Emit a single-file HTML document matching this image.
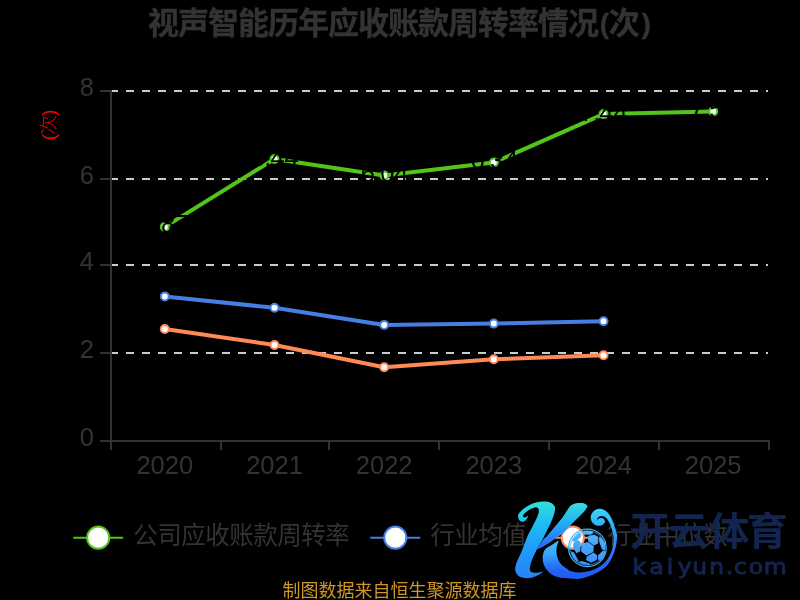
<!DOCTYPE html>
<html lang="zh-CN">
<head>
<meta charset="utf-8">
<title>视声智能历年应收账款周转率情况(次)</title>
<style>
html,body{margin:0;padding:0;background:#000;width:800px;height:600px;overflow:hidden}
svg{display:block;position:absolute;left:0;top:0}
text{font-family:"Liberation Sans","Noto Sans CJK SC",sans-serif}
.dv{font-family:"DejaVu Sans","Liberation Sans",sans-serif}
.ax{fill:#333;font-size:25.5px}
.lg{fill:#333;font-size:24.5px;letter-spacing:-0.5px}
.dl{fill:#000;font-size:25.5px}
</style>
</head>
<body>
<svg width="800" height="600" viewBox="0 0 800 600">
<defs>
<linearGradient id="gs" gradientUnits="userSpaceOnUse" x1="0" y1="501" x2="0" y2="578">
<stop offset="0" stop-color="#34e2d6"/>
<stop offset="0.3" stop-color="#1cbcf4"/>
<stop offset="0.6" stop-color="#1f9ef8"/>
<stop offset="1" stop-color="#2682fa"/>
</linearGradient>
<linearGradient id="ga" gradientUnits="userSpaceOnUse" x1="0" y1="503" x2="0" y2="549">
<stop offset="0" stop-color="#34dfe0"/>
<stop offset="0.5" stop-color="#25a4f6"/>
<stop offset="1" stop-color="#2c62fa"/>
</linearGradient>
<linearGradient id="gc" gradientUnits="userSpaceOnUse" x1="0" y1="509" x2="0" y2="578">
<stop offset="0" stop-color="#34d6fa"/>
<stop offset="0.16" stop-color="#34bcfa"/>
<stop offset="0.38" stop-color="#3198fa"/>
<stop offset="0.6" stop-color="#2c7ef9"/>
<stop offset="0.8" stop-color="#2668f7"/>
<stop offset="1" stop-color="#1f5af5"/>
</linearGradient>
<linearGradient id="gl" gradientUnits="userSpaceOnUse" x1="0" y1="540" x2="0" y2="578">
<stop offset="0" stop-color="#3cbefa"/>
<stop offset="0.35" stop-color="#38a8fa"/>
<stop offset="0.65" stop-color="#2a76f8"/>
<stop offset="0.85" stop-color="#2261f6"/>
<stop offset="1" stop-color="#1f5af5"/>
</linearGradient>
<clipPath id="cl"><rect x="500" y="480" width="74" height="120"/></clipPath>
<clipPath id="cr"><rect x="574" y="480" width="60" height="120"/></clipPath>
<linearGradient id="gb" gradientUnits="userSpaceOnUse" x1="0" y1="529" x2="0" y2="567">
<stop offset="0" stop-color="#52b8fa"/>
<stop offset="1" stop-color="#3a8efa"/>
</linearGradient>
</defs>
<rect width="800" height="600" fill="#000"/>
<!-- title -->
<text x="148" y="33.5" font-size="31" font-weight="bold" fill="#333" stroke="#333" stroke-width="0.35" letter-spacing="-1">视声智能历年应收账款周转率情况<tspan dx="1.8" dy="-1" font-size="28">(</tspan><tspan dx="0.5" dy="1">次</tspan><tspan dx="2.8" dy="-1" font-size="28">)</tspan></text>
<!-- y axis name -->
<text transform="translate(54.8,125.4) rotate(-90) scale(1.1,1)" text-anchor="middle" font-size="18" font-weight="300" fill="#f00" letter-spacing="-0.8">(次)</text>
<!-- grid lines -->
<g stroke="#ccc" stroke-width="2" stroke-dasharray="8 8" fill="none">
<path d="M110 91H768"/>
<path d="M110 179H768"/>
<path d="M110 265H768"/>
<path d="M110 353H768"/>
</g>
<!-- axes -->
<g stroke="#333" stroke-width="2" fill="none">
<path d="M111 90V450"/>
<path d="M100 441H770"/>
<path d="M100 91H111M100 179H111M100 265H111M100 353H111"/>
<path d="M221 441V450M329 441V450M439 441V450M549 441V450M659 441V450M769 440V450"/>
</g>
<!-- y labels -->
<g class="ax" text-anchor="end">
<text x="94" y="96.3">8</text>
<text x="94" y="184.3">6</text>
<text x="94" y="270.3">4</text>
<text x="94" y="358.3">2</text>
<text x="94" y="446.3">0</text>
</g>
<!-- x labels -->
<g class="ax" text-anchor="middle">
<text x="164.8" y="474.4">2020</text>
<text x="274.5" y="474.4">2021</text>
<text x="384.2" y="474.4">2022</text>
<text x="493.8" y="474.4">2023</text>
<text x="603.5" y="474.4">2024</text>
<text x="713.2" y="474.4">2025</text>
</g>
<!-- series -->
<g fill="none" stroke-width="4" stroke-linejoin="round">
<polyline stroke="#52c41a" points="164.8,226.9 274.5,159 384.2,175.5 493.8,162.5 603.5,114.1 713.2,111.4"/>
<polyline stroke="#467ee4" points="164.8,296.4 274.5,307.8 384.2,324.9 493.8,323.6 603.5,321.3"/>
<polyline stroke="#ff8a55" points="164.8,329 274.5,345 384.2,367.3 493.8,359.3 603.5,355.3"/>
</g>
<g fill="#fff" stroke-width="2">
<g stroke="#52c41a">
<circle cx="164.8" cy="226.9" r="4"/><circle cx="274.5" cy="159" r="4"/><circle cx="384.2" cy="175.5" r="4"/><circle cx="493.8" cy="162.5" r="4"/><circle cx="603.5" cy="114.1" r="4"/><circle cx="713.2" cy="111.4" r="4"/>
</g>
<g stroke="#467ee4">
<circle cx="164.8" cy="296.4" r="4"/><circle cx="274.5" cy="307.8" r="4"/><circle cx="384.2" cy="324.9" r="4"/><circle cx="493.8" cy="323.6" r="4"/><circle cx="603.5" cy="321.3" r="4"/>
</g>
<g stroke="#ff8a55">
<circle cx="164.8" cy="329" r="4"/><circle cx="274.5" cy="345" r="4"/><circle cx="384.2" cy="367.3" r="4"/><circle cx="493.8" cy="359.3" r="4"/><circle cx="603.5" cy="355.3" r="4"/>
</g>
</g>
<!-- data labels (black on black) -->
<g class="dl">
<text x="141.4 154.6 160.9 174.9" y="233.4">4.87</text>
<text x="251.1 264.2 270.6 284.6" y="165.5">6.44</text>
<text x="360.8 373.9 380.2 394.2" y="182.0">6.04</text>
<text x="470.4 483.6 489.9 503.9" y="169.0">6.34</text>
<text x="580.0 593.2 599.5 613.5" y="120.6">7.44</text>
<text x="689.8 703.0 709.2 723.2" y="117.9">7.50</text>
</g>
<!-- legend -->
<g stroke-width="2" fill="#fff">
<path d="M73.2 537.7H123.2" stroke="#52c41a"/><circle cx="98.2" cy="537.7" r="11.1" stroke="#52c41a"/>
<path d="M370.3 537.7H420.3" stroke="#467ee4"/><circle cx="395.3" cy="537.7" r="11.1" stroke="#467ee4"/>
<path d="M547.8 537.7H597.8" stroke="#ff8a55"/><circle cx="572.8" cy="537.7" r="11.1" stroke="#ff8a55"/>
</g>
<g class="lg">
<text x="133.2" y="544.4">公司应收账款周转率</text>
<text x="430.2" y="544.4">行业均值</text>
<text x="607.2" y="544.4">行业中位数</text>
</g>
<!-- footer -->
<text x="399.5" y="596.5" text-anchor="middle" font-size="18" fill="#cf9725">制图数据来自恒生聚源数据库</text>
<!-- watermark logo -->
<g id="wm">
<path fill="url(#gl)" clip-path="url(#cl)" d="M558.8 540.2C556.5 541.7 554.3 543.3 552.0 544.8C550.0 546.1 547.7 546.9 546.0 548.5C544.7 549.7 544.0 551.4 543.4 553.0C542.9 554.4 542.6 556.0 542.6 557.5C542.6 559.5 542.8 561.6 543.4 563.5C544.0 565.4 544.8 567.2 546.0 568.8C547.7 571.1 549.6 573.3 552.0 574.8C554.7 576.4 557.9 577.2 561.0 577.8C563.9 578.4 567.0 578.3 570.0 578.5C572.5 578.7 575.0 579.1 577.5 578.9C580.0 578.7 582.5 578.1 585.0 577.4C587.6 576.7 590.1 575.8 592.5 574.8C595.1 573.7 597.7 572.5 600.0 571.0C602.7 569.2 605.4 567.4 607.5 565.0C609.4 562.8 610.7 560.1 612.0 557.5C613.2 555.1 614.2 552.6 615.0 550.0C615.7 547.6 616.1 545.0 616.5 542.5C616.8 540.0 617.4 537.5 617.1 535.0C616.8 532.6 615.7 530.3 615.0 528.0C614.3 525.8 613.7 523.5 612.8 521.3C612.0 519.2 611.0 517.2 609.8 515.3C608.8 513.7 607.5 512.3 606.0 511.1C604.7 510.1 603.1 509.2 601.5 508.9C600.0 508.6 598.4 508.8 597.0 509.2C595.6 509.6 594.2 510.4 593.2 511.5C592.2 512.5 591.4 513.9 591.0 515.3C590.6 516.7 590.6 518.4 591.0 519.8C591.4 521.2 592.1 522.6 593.2 523.5C594.5 524.6 596.1 525.5 597.8 525.8C599.3 526.0 600.9 525.7 602.2 525.0C603.4 524.4 604.6 523.3 604.9 522.0C605.2 521.0 604.6 519.8 603.8 519.0C603.0 518.2 601.9 517.9 600.8 517.9C599.8 517.9 598.8 518.3 598.1 519.0C597.6 519.5 597.6 520.3 597.4 521.0C597.5 520.0 597.1 518.8 597.6 518.0C598.2 517.0 599.4 516.4 600.5 516.2C601.6 515.9 602.9 516.1 604.0 516.6C605.4 517.2 606.5 518.3 607.5 519.5C608.6 520.8 609.3 522.4 610.0 524.0C610.8 525.9 611.4 528.0 612.0 530.0C612.6 532.0 613.3 534.0 613.5 536.0C613.8 538.2 613.7 540.3 613.5 542.5C613.3 544.5 613.0 546.5 612.4 548.5C611.7 550.8 610.9 553.1 609.8 555.3C608.7 557.4 607.6 559.5 606.0 561.3C604.3 563.3 602.2 565.0 600.0 566.5C597.7 568.1 595.1 569.3 592.5 570.3C590.1 571.2 587.5 571.7 585.0 572.1C582.5 572.5 580.0 572.7 577.5 572.5C575.0 572.3 572.4 571.8 570.0 571.0C568.8 570.6 568.0 569.5 567.0 568.8C565.3 567.5 563.3 566.6 561.8 565.0C560.2 563.3 558.9 561.2 558.0 559.0C557.1 556.9 556.7 554.6 556.5 552.3C556.3 550.3 556.5 548.3 556.9 546.3C557.3 544.2 558.2 542.2 558.8 540.2Z"/>
<path fill="url(#gc)" clip-path="url(#cr)" d="M558.8 540.2C556.5 541.7 554.3 543.3 552.0 544.8C550.0 546.1 547.7 546.9 546.0 548.5C544.7 549.7 544.0 551.4 543.4 553.0C542.9 554.4 542.6 556.0 542.6 557.5C542.6 559.5 542.8 561.6 543.4 563.5C544.0 565.4 544.8 567.2 546.0 568.8C547.7 571.1 549.6 573.3 552.0 574.8C554.7 576.4 557.9 577.2 561.0 577.8C563.9 578.4 567.0 578.3 570.0 578.5C572.5 578.7 575.0 579.1 577.5 578.9C580.0 578.7 582.5 578.1 585.0 577.4C587.6 576.7 590.1 575.8 592.5 574.8C595.1 573.7 597.7 572.5 600.0 571.0C602.7 569.2 605.4 567.4 607.5 565.0C609.4 562.8 610.7 560.1 612.0 557.5C613.2 555.1 614.2 552.6 615.0 550.0C615.7 547.6 616.1 545.0 616.5 542.5C616.8 540.0 617.4 537.5 617.1 535.0C616.8 532.6 615.7 530.3 615.0 528.0C614.3 525.8 613.7 523.5 612.8 521.3C612.0 519.2 611.0 517.2 609.8 515.3C608.8 513.7 607.5 512.3 606.0 511.1C604.7 510.1 603.1 509.2 601.5 508.9C600.0 508.6 598.4 508.8 597.0 509.2C595.6 509.6 594.2 510.4 593.2 511.5C592.2 512.5 591.4 513.9 591.0 515.3C590.6 516.7 590.6 518.4 591.0 519.8C591.4 521.2 592.1 522.6 593.2 523.5C594.5 524.6 596.1 525.5 597.8 525.8C599.3 526.0 600.9 525.7 602.2 525.0C603.4 524.4 604.6 523.3 604.9 522.0C605.2 521.0 604.6 519.8 603.8 519.0C603.0 518.2 601.9 517.9 600.8 517.9C599.8 517.9 598.8 518.3 598.1 519.0C597.6 519.5 597.6 520.3 597.4 521.0C597.5 520.0 597.1 518.8 597.6 518.0C598.2 517.0 599.4 516.4 600.5 516.2C601.6 515.9 602.9 516.1 604.0 516.6C605.4 517.2 606.5 518.3 607.5 519.5C608.6 520.8 609.3 522.4 610.0 524.0C610.8 525.9 611.4 528.0 612.0 530.0C612.6 532.0 613.3 534.0 613.5 536.0C613.8 538.2 613.7 540.3 613.5 542.5C613.3 544.5 613.0 546.5 612.4 548.5C611.7 550.8 610.9 553.1 609.8 555.3C608.7 557.4 607.6 559.5 606.0 561.3C604.3 563.3 602.2 565.0 600.0 566.5C597.7 568.1 595.1 569.3 592.5 570.3C590.1 571.2 587.5 571.7 585.0 572.1C582.5 572.5 580.0 572.7 577.5 572.5C575.0 572.3 572.4 571.8 570.0 571.0C568.8 570.6 568.0 569.5 567.0 568.8C565.3 567.5 563.3 566.6 561.8 565.0C560.2 563.3 558.9 561.2 558.0 559.0C557.1 556.9 556.7 554.6 556.5 552.3C556.3 550.3 556.5 548.3 556.9 546.3C557.3 544.2 558.2 542.2 558.8 540.2Z"/>
<path fill="url(#ga)" d="M537.0 549.3C539.0 546.2 540.8 542.9 543.0 540.0C544.3 538.3 546.1 537.1 547.5 535.5C550.1 532.6 552.5 529.5 555.0 526.5C557.5 523.5 560.2 520.6 562.5 517.5C565.2 513.9 567.2 509.8 570.0 506.3C570.7 505.4 571.9 504.8 573.0 504.3C574.4 503.7 576.0 503.3 577.5 503.1C579.5 502.9 581.5 502.8 583.5 503.2C584.8 503.5 586.0 504.2 586.9 505.1C587.3 505.6 587.5 506.4 587.2 507.0C586.3 508.9 584.9 510.7 583.5 512.3C581.7 514.4 579.5 516.3 577.5 518.3C575.0 520.8 572.5 523.3 570.0 525.8C567.6 528.2 565.5 530.8 563.0 533.0C560.5 535.2 557.7 536.9 555.0 538.8C552.5 540.6 550.1 542.4 547.5 544.0C545.6 545.2 543.6 546.4 541.5 547.4C540.0 548.1 538.5 548.7 537.0 549.3Z"/>
<path fill="url(#gs)" d="M528.4 515.3C528.0 516.3 527.8 517.4 527.2 518.3C526.4 519.4 525.5 520.6 524.3 521.3C523.4 521.8 522.2 522.0 521.2 521.6C520.1 521.1 519.1 520.1 518.6 519.0C518.1 517.9 517.9 516.5 518.1 515.3C518.3 514.1 519.0 513.1 519.8 512.2C521.3 510.5 523.1 509.1 525.0 507.8C527.4 506.2 529.8 504.7 532.5 503.6C534.9 502.6 537.5 502.2 540.0 501.8C542.0 501.5 544.0 501.4 546.0 501.6C547.8 501.8 549.6 502.1 551.2 502.9C552.6 503.6 553.9 504.8 554.6 506.2C555.2 507.3 555.1 508.7 555.0 510.0C554.8 512.0 554.2 514.0 553.5 516.0C552.6 518.6 551.6 521.0 550.5 523.5C549.1 526.6 547.5 529.5 546.0 532.5C544.8 535.0 543.6 537.5 542.3 540.0C540.6 543.1 538.7 546.2 537.0 549.3C536.2 550.8 535.5 552.3 534.8 553.8C533.8 556.0 532.6 558.2 531.8 560.5C531.0 562.7 530.2 565.0 529.9 567.3C529.7 568.5 529.7 569.9 530.3 571.0C530.7 571.8 531.6 572.3 532.5 572.5C534.5 572.9 536.5 572.7 538.5 572.5C540.3 572.3 542.0 571.8 543.8 571.4C542.5 572.3 541.4 573.3 540.0 574.0C537.6 575.3 535.1 576.7 532.5 577.4C530.1 578.1 527.5 578.3 525.0 578.1C522.9 577.9 520.7 577.5 519.0 576.3C517.4 575.3 516.3 573.5 515.6 571.8C515.0 570.4 515.1 568.8 515.3 567.3C515.7 565.0 516.6 562.7 517.5 560.5C518.6 557.7 520.1 555.1 521.3 552.3C522.6 549.1 523.7 545.8 525.0 542.5C526.0 540.0 526.9 537.4 528.0 535.0C529.4 532.1 531.0 529.4 532.5 526.5C534.0 523.5 535.7 520.6 537.0 517.5C537.8 515.6 538.7 513.6 538.9 511.5C539.0 510.3 538.6 508.9 537.8 508.1C537.1 507.4 535.8 507.2 534.8 507.4C532.7 507.9 530.7 508.9 528.8 510.0C527.1 511.0 525.7 512.4 524.3 513.8C523.7 514.4 523.1 515.2 523.1 516.0C523.1 516.6 523.7 517.4 524.3 517.5C525.0 517.7 525.8 517.2 526.5 516.8C527.2 516.4 527.8 515.8 528.4 515.3Z"/>
<circle cx="587.4" cy="547.9" r="18.8" fill="none" stroke="#40b4f8" stroke-width="1.2"/>
<circle cx="587.4" cy="547.9" r="17.2" fill="none" stroke="#40b4f8" stroke-width="0.7"/>
<path fill="url(#gb)" d="M582.2 532.3L584.2 531.1L592.2 531.1L593.3 533.5L590.2 534.7L583.0 534.4ZM572.6 538.9L579.1 532.8L581.5 534.0L580.7 537.3L575.4 541.7L572.2 541.3ZM589.1 535.6L594.8 534.8L598.4 537.2L598.0 543.6L594.0 545.4L588.3 541.6L587.7 537.2ZM599.1 536.9L601.5 537.7L604.8 542.6L605.6 548.2L604.0 550.6L601.9 549.0L599.1 541.8ZM581.8 543.6L587.8 541.9L593.8 546.0L593.4 552.0L586.2 555.4L581.0 551.2ZM573.4 542.9L578.2 540.0L580.7 542.5L580.3 551.3L576.6 553.3L573.0 548.1ZM586.8 556.4L593.6 552.5L597.2 555.2L596.8 560.0L591.2 562.8L586.0 560.0ZM598.0 555.3L602.8 550.8L605.6 551.6L604.0 557.3L600.0 560.9L597.6 558.9ZM571.5 551.2L574.0 552.4L578.8 561.3L577.2 562.1L573.1 558.1L571.1 553.2ZM579.1 561.6L581.9 560.9L590.0 563.4L589.6 565.0L583.9 564.6L579.1 563.0Z"/>
<text transform="translate(0,545.2) scale(1,0.94)" y="0" font-size="41" font-weight="bold" fill="#13254f" text-anchor="middle" x="649.8 689 729.2 767.2">开云体育</text>
<text class="dv" transform="translate(0,573.9) scale(1,0.93)" y="0" font-size="23.5" fill="#13254f" stroke="#13254f" stroke-width="1" text-anchor="middle" x="639.4 656.5 670 684.6 699.8 716.8 729.5 740.5 755.9 775.2">kaiyun.com</text>
</g>
</svg>
</body>
</html>
